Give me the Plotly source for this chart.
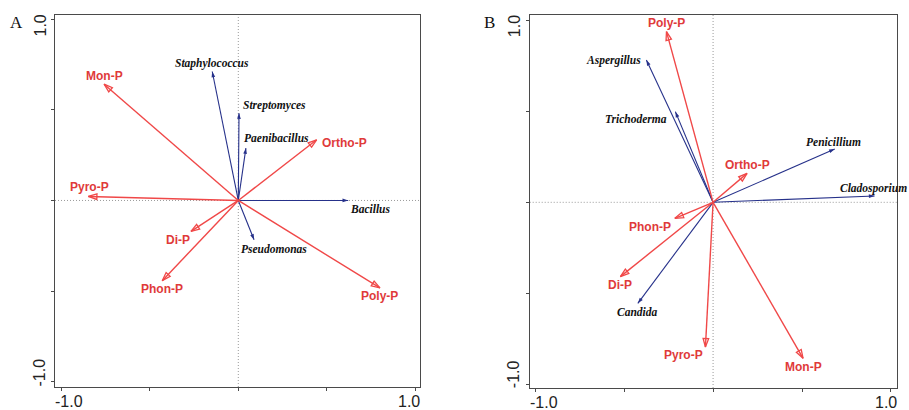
import plotly.graph_objects as go

# ---------------- data ----------------
# Panel A (bacteria)
a_env_names = ['Mon-P', 'Pyro-P', 'Di-P', 'Phon-P', 'Poly-P', 'Ortho-P']
a_env_x = [-0.757, -0.846, -0.267, -0.429, 0.799, 0.442]
a_env_y = [0.642, 0.022, -0.171, -0.443, -0.483, 0.335]
a_sp_names = ['Staphylococcus', 'Streptomyces', 'Paenibacillus', 'Bacillus', 'Pseudomonas']
a_sp_x = [-0.147, 0.004, 0.043, 0.620, 0.089]
a_sp_y = [0.712, 0.482, 0.289, 0.0, -0.217]

# Panel B (fungi)
b_env_names = ['Poly-P', 'Ortho-P', 'Phon-P', 'Di-P', 'Pyro-P', 'Mon-P']
b_env_x = [-0.262, 0.191, -0.215, -0.521, -0.043, 0.506]
b_env_y = [0.938, 0.159, -0.088, -0.408, -0.795, -0.857]
b_sp_names = ['Aspergillus', 'Trichoderma', 'Penicillium', 'Cladosporium', 'Candida']
b_sp_x = [-0.375, -0.212, 0.684, 0.908, -0.423]
b_sp_y = [0.782, 0.498, 0.293, 0.035, -0.555]

tick_vals = [-1.0, -0.5, 0.0, 0.5, 1.0]
tick_text = ['-1.0', '1.0']
panel_labels = ['A', 'B']

# ---------------- styling ----------------
RED_LINE = '#f04848'
RED_TEXT = '#e03a3a'
BLUE = '#26318a'
AXC = '#4a4a4a'
ZEROC = '#9a9a9a'

# label placement: (anchor, dx px, dy px screen-down)
a_env_off = [('center', 0, -8.3), ('center', 0.7, -9.4), ('center', -12.7, 8.3),
             ('center', 0, 8), ('center', 0, 7.7), ('left', 3.3, 3.3)]
a_sp_off = [('center', -0.6, -8.4), ('left', 1.7, -7.3), ('left', -4.3, -10.6),
            ('left', 0, 8.3), ('left', -15, 9.3)]
b_env_off = [('center', 0, -8.4), ('center', 0, -8.3), ('right', -2, 8.4),
             ('center', 0, 8.3), ('right', -0.7, 8.3), ('center', 0, 8.4)]
b_sp_off = [('right', -3.7, 0.7), ('right', -6, 7.6), ('center', -1, -7.3),
            ('center', -1, -7), ('center', 0, 8.4)]

fig = go.Figure()
annotations = []
shapes = []


def add_vectors(xs, ys, names, offs, xa, ya, kind):
    for x, y, name, (anc, dx, dy) in zip(xs, ys, names, offs):
        if kind == 'env':
            color, sym, size, lw = RED_LINE, 'arrow-open', 9, 1.4
        else:
            color, sym, size, lw = BLUE, 'arrow', 6, 1.1
        fig.add_trace(go.Scatter(
            x=[0, x], y=[0, y], xaxis=xa, yaxis=ya,
            mode='lines+markers',
            line=dict(color=color, width=lw, backoff=[0, size]),
            marker=dict(symbol=['circle', sym], size=[0, size], opacity=[0, 1],
                        angleref='previous', color=color,
                        line=dict(color=color, width=1.3 if kind == 'env' else 0)),
            hoverinfo='skip', cliponaxis=False, showlegend=False))
        if kind == 'env':
            font = dict(family='Liberation Sans, Arial', size=12, color=RED_TEXT, weight='bold')
        else:
            font = dict(family='Liberation Serif, Times New Roman', size=11.5, color='#111111',
                        style='italic', weight='bold')
        annotations.append(dict(
            x=x, y=y, xref=xa, yref=ya, text=name, showarrow=False,
            xanchor=anc, yanchor='middle', xshift=dx, yshift=-dy, font=font))


add_vectors(a_sp_x, a_sp_y, a_sp_names, a_sp_off, 'x', 'y', 'sp')
add_vectors(a_env_x, a_env_y, a_env_names, a_env_off, 'x', 'y', 'env')
add_vectors(b_sp_x, b_sp_y, b_sp_names, b_sp_off, 'x2', 'y2', 'sp')
add_vectors(b_env_x, b_env_y, b_env_names, b_env_off, 'x2', 'y2', 'env')

W, H = 909, 410
panels = [
    dict(xa='x', ya='y', xd=[55 / W, 420 / W], yd=[(H - 387) / H, (H - 15) / H],
         xr=[-1.034, 1.025], yr=[-1.03, 1.024], label=panel_labels[0], lx=16.7),
    dict(xa='x2', ya='y2', xd=[529.7 / W, 897 / W], yd=[(H - 388) / H, (H - 15) / H],
         xr=[-1.031, 1.034], yr=[-1.02, 1.029], label=panel_labels[1], lx=489.7),
]

axis_common = dict(showline=True, mirror=True, linecolor=AXC, linewidth=1,
                   ticks='outside', ticklen=3, tickcolor=AXC, tickwidth=1,
                   tickvals=tick_vals, showticklabels=False, showgrid=False,
                   zeroline=False, fixedrange=True)
layout_axes = {}
for i, p in enumerate(panels):
    xk = 'xaxis' if i == 0 else 'xaxis2'
    yk = 'yaxis' if i == 0 else 'yaxis2'
    layout_axes[xk] = dict(domain=p['xd'], range=p['xr'], anchor=p['ya'], **axis_common)
    layout_axes[yk] = dict(domain=p['yd'], range=p['yr'], anchor=p['xa'], **axis_common)

    # dotted zero lines
    shapes.append(dict(type='line', xref=p['xa'] + ' domain', yref=p['ya'], x0=0, x1=1, y0=0, y1=0,
                       line=dict(color=ZEROC, width=1, dash='1px,2px'), layer='below'))
    shapes.append(dict(type='line', xref=p['xa'], yref=p['ya'] + ' domain', x0=0, x1=0, y0=0, y1=1,
                       line=dict(color=ZEROC, width=1, dash='1px,2px'), layer='below'))

    tfont = dict(family='Liberation Sans, Arial', size=16, color='#222222')
    # x tick labels aligned to box edges
    annotations.append(dict(x=0, y=p['yd'][0], xref=p['xa'] + ' domain', yref='paper',
                            text=tick_text[0], showarrow=False, xanchor='left', yanchor='top',
                            yshift=-4, xshift=-2, font=tfont))
    annotations.append(dict(x=1, y=p['yd'][0], xref=p['xa'] + ' domain', yref='paper',
                            text=tick_text[1], showarrow=False, xanchor='right', yanchor='top',
                            yshift=-4, xshift=2, font=tfont))
    # y tick labels (rotated)
    annotations.append(dict(x=0, y=1, xref=p['xa'] + ' domain', yref=p['ya'] + ' domain',
                            text=tick_text[1], showarrow=False, xanchor='right', yanchor='top',
                            textangle=-90, xshift=-5, yshift=2, font=tfont))
    annotations.append(dict(x=0, y=0, xref=p['xa'] + ' domain', yref=p['ya'] + ' domain',
                            text=tick_text[0], showarrow=False, xanchor='right', yanchor='bottom',
                            textangle=-90, xshift=-5, yshift=-2, font=tfont))
    # panel letter
    annotations.append(dict(x=p['lx'] / W, y=(H - 22.7) / H, xref='paper', yref='paper',
                            text=p['label'], showarrow=False, xanchor='center', yanchor='middle',
                            font=dict(family='Liberation Serif, Times New Roman', size=17,
                                      color='#111111')))

fig.update_layout(
    width=W, height=H,
    margin=dict(l=0, r=0, t=0, b=0),
    paper_bgcolor='white', plot_bgcolor='white',
    showlegend=False,
    annotations=annotations, shapes=shapes,
    **layout_axes)

fig.write_html('out.html', config={'displayModeBar': False})
